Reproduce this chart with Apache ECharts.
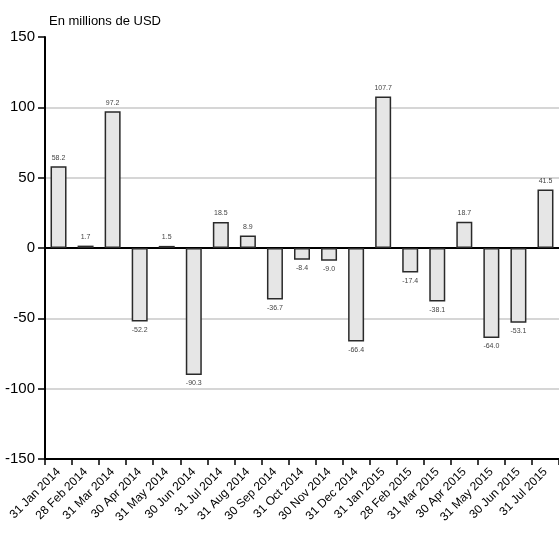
<!DOCTYPE html>
<html>
<head>
<meta charset="utf-8">
<script src="https://cdn.jsdelivr.net/npm/echarts@6/dist/echarts.min.js"></script>
<style>html,body{margin:0;padding:0;background:#fff}#c{width:559px;height:543px}</style>
</head>
<body>
<div id="c"></div>
<script>
const categories = ['31 Jan 2014','28 Feb 2014','31 Mar 2014','30 Apr 2014','31 May 2014','30 Jun 2014','31 Jul 2014','31 Aug 2014','30 Sep 2014','31 Oct 2014','30 Nov 2014','31 Dec 2014','31 Jan 2015','28 Feb 2015','31 Mar 2015','30 Apr 2015','31 May 2015','30 Jun 2015','31 Jul 2015'];
const values = [58.2, 1.7, 97.2, -52.2, 1.5, -90.3, 18.5, 8.9, -36.7, -8.4, -9.0, -66.4, 107.7, -17.4, -38.1, 18.7, -64.0, -53.1, 41.5];
const yTicks = [-150, -100, -50, 0, 50, 100, 150];
const unitLabel = 'En millions de USD';

const chart = echarts.init(document.getElementById('c'));
const font = '"Liberation Sans", Arial, sans-serif';
chart.setOption({
  animation: false,
  title: {
    text: unitLabel, left: 44, top: 10,
    textStyle: {fontFamily: font, fontSize: 13, fontWeight: 'normal', color: '#000'}
  },
  grid: {left: 45, top: 37, width: 514, bottom: 84, containLabel: false},
  xAxis: [{
    type: 'category', data: categories, position: 'bottom',
    axisLine: {onZero: false, lineStyle: {color: '#000', width: 2}},
    axisTick: {show: true, length: 6, lineStyle: {color: '#000', width: 1.5}},
    axisLabel: {rotate: 45, fontFamily: font, fontSize: 12, color: '#000', margin: 11, interval: 0}
  }, {
    type: 'category', data: categories, position: 'top',
    axisLine: {show: true, lineStyle: {color: '#000', width: 2}},
    axisTick: {show: false}, axisLabel: {show: false}
  }],
  yAxis: {
    type: 'value', min: yTicks[0], max: yTicks[yTicks.length - 1], interval: 50,
    axisLine: {show: true, lineStyle: {color: '#000', width: 2}},
    axisTick: {show: true, length: 7, lineStyle: {color: '#000', width: 1.5}},
    axisLabel: {fontFamily: font, fontSize: 15, color: '#000', margin: 10},
    splitLine: {show: true, lineStyle: {color: ['rgba(0,0,0,0)', '#c8c8c8', '#c8c8c8', '#555', '#c8c8c8', '#c8c8c8', 'rgba(0,0,0,0)'], width: 1.5}}
  },
  series: [{
    type: 'bar', xAxisIndex: 0, barWidth: 16,
    data: values.map(v => ({value: v, label: {position: v < 0 ? 'bottom' : 'top'}})),
    itemStyle: {color: '#e6e6e6', borderColor: '#2a2a2a', borderWidth: 1.5},
    label: {
      show: true, fontFamily: font, fontSize: 7, color: '#444', distance: 5,
      formatter: p => p.value.toFixed(1)
    }
  }]
});
</script>
</body>
</html>
